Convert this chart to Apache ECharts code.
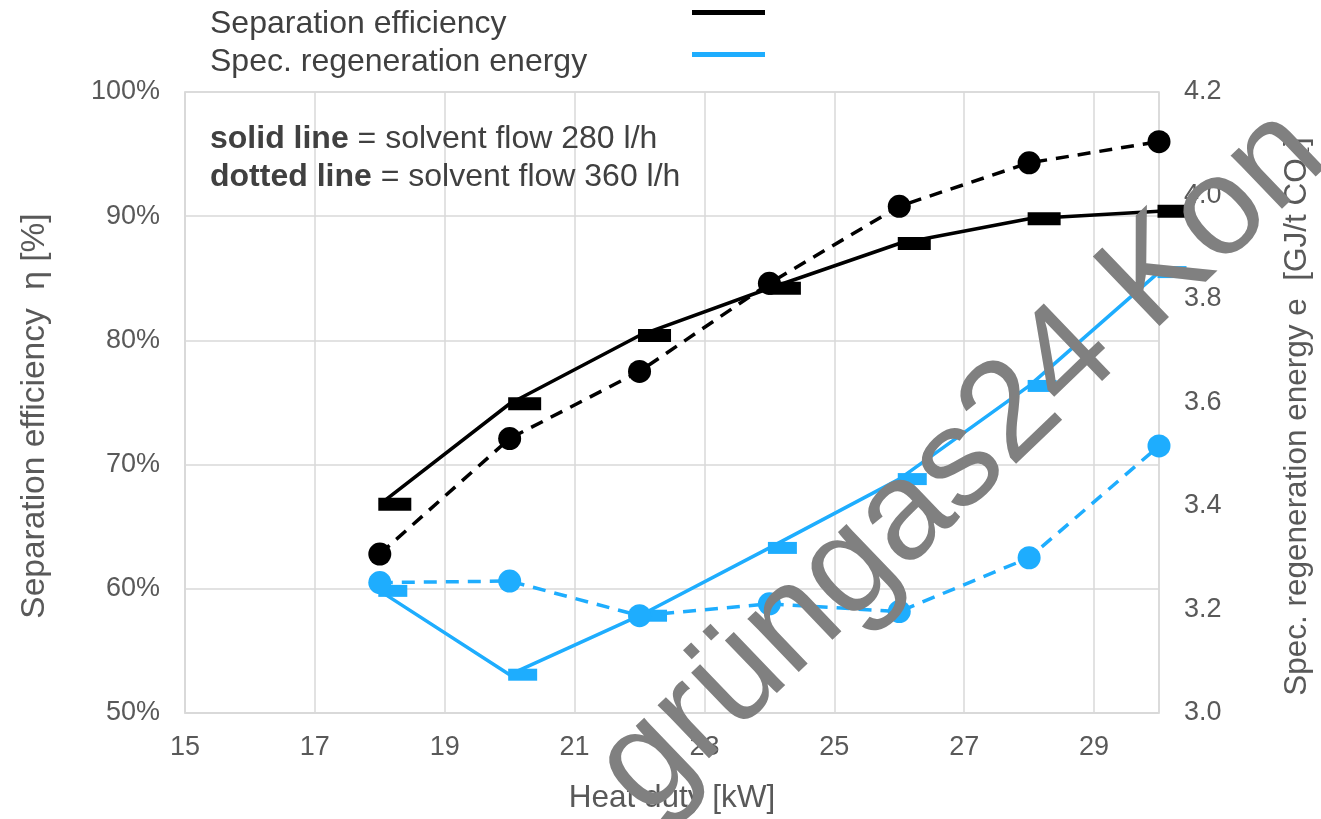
<!DOCTYPE html>
<html>
<head>
<meta charset="utf-8">
<script src="https://cdn.jsdelivr.net/npm/echarts@6/dist/echarts.min.js"></script>
<style>
  html, body { margin: 0; padding: 0; background: #fff; }
  #chart { width: 1321px; height: 819px; }
</style>
</head>
<body>
<div id="chart"></div>
<script>
// heat duty [kW]
const heatDuty = [18, 20, 22, 24, 26, 28, 30];
// separation efficiency [%]
const effSolid280 = [66.8, 74.9, 80.4, 84.2, 87.8, 89.8, 90.4];
const effDotted360 = [62.8, 72.1, 77.5, 84.6, 90.8, 94.3, 96.0];
// spec. regeneration energy [GJ/t CO2]
const energySolid280 = [3.236, 3.074, 3.188, 3.319, 3.452, 3.632, 3.852];
const energyDotted360 = [3.252, 3.255, 3.188, 3.211, 3.196, 3.30, 3.516];

const FONT = "'Liberation Sans', Arial, sans-serif";
const BLACK = "#000000";
const BLUE = "#1eadfe";
const GRID = "#d9d9d9";
const LABEL = "#595959";
const TEXT = "#404040";

function pairs(xs, ys) {
  return xs.map((x, i) => [x, ys[i]]);
}

function solidSeries(name, data, color, yAxisIndex, size) {
  return {
    type: "line",
    name,
    yAxisIndex,
    data: pairs(heatDuty, data),
    symbol: "rect",
    symbolSize: size,
    symbolOffset: [Math.round(size[0] / 2) - 2, 0],
    lineStyle: { color, width: 3.5 },
    itemStyle: { color },
    z: 3
  };
}

function dottedSeries(name, data, color, yAxisIndex) {
  return {
    type: "line",
    name,
    yAxisIndex,
    data: pairs(heatDuty, data),
    symbol: "circle",
    symbolSize: 23,
    lineStyle: { color, width: 3.5, type: [13, 9] },
    itemStyle: { color },
    z: 4
  };
}

const chart = echarts.init(document.getElementById("chart"), null, { renderer: "canvas" });

chart.setOption({
  animation: false,
  textStyle: { fontFamily: FONT },
  grid: {
    left: 185, right: 159, top: 92, bottom: 102,
    show: true, borderColor: GRID, borderWidth: 1.5
  },
  xAxis: {
    type: "value",
    min: 15, max: 30, interval: 2,
    name: "Heat duty [kW]",
    nameLocation: "middle",
    nameGap: 69,
    nameTextStyle: { color: LABEL, fontSize: 31.5, fontFamily: FONT },
    axisLine: { show: true, lineStyle: { color: GRID, width: 1.5 } },
    axisTick: { show: false },
    axisLabel: { color: LABEL, fontSize: 27, margin: 21, showMaxLabel: false, fontFamily: FONT },
    splitLine: { show: true, lineStyle: { color: GRID, width: 1.5 } }
  },
  yAxis: [
    {
      type: "value",
      min: 50, max: 100, interval: 10,
      name: "Separation efficiency  \u03b7 [%]",
      nameLocation: "middle",
      nameGap: 133,
      nameRotate: 90,
      nameTextStyle: { color: LABEL, fontSize: 33.5, fontFamily: FONT, padding: [0, 27, 0, 0] },
      axisLine: { show: true, lineStyle: { color: GRID, width: 1.5 } },
      axisTick: { show: false },
      axisLabel: { color: LABEL, fontSize: 27, margin: 25, formatter: "{value}%", fontFamily: FONT },
      splitLine: { show: true, lineStyle: { color: GRID, width: 1.5 } }
    },
    {
      type: "value",
      position: "right",
      min: 3.0, max: 4.2, interval: 0.2,
      name: "Spec. regeneration energy e  [GJ/t CO\u2082]",
      nameLocation: "middle",
      nameGap: 122,
      nameRotate: 90,
      nameTextStyle: { color: LABEL, fontSize: 31.5, fontFamily: FONT, padding: [0, 28, 0, 0] },
      axisLine: { show: false },
      axisTick: { show: false },
      axisLabel: {
        color: LABEL, fontSize: 27, margin: 25, fontFamily: FONT,
        formatter: (v) => Number(v).toFixed(1)
      },
      splitLine: { show: false }
    }
  ],
  series: [
    solidSeries("Separation efficiency 280 l/h", effSolid280, BLACK, 0, [33, 13]),
    dottedSeries("Separation efficiency 360 l/h", effDotted360, BLACK, 0),
    solidSeries("Spec. regeneration energy 280 l/h", energySolid280, BLUE, 1, [29, 12]),
    dottedSeries("Spec. regeneration energy 360 l/h", energyDotted360, BLUE, 1)
  ],
  graphic: [
    // legend
    {
      type: "text", left: 210, top: 8,
      style: { text: "Separation efficiency", fill: TEXT, font: "32px " + FONT }
    },
    {
      type: "text", left: 210, top: 46,
      style: { text: "Spec. regeneration energy", fill: TEXT, font: "32px " + FONT }
    },
    {
      type: "line",
      shape: { x1: 692, y1: 12.5, x2: 765, y2: 12.5 },
      style: { stroke: BLACK, lineWidth: 5 }
    },
    {
      type: "line",
      shape: { x1: 692, y1: 54.5, x2: 765, y2: 54.5 },
      style: { stroke: BLUE, lineWidth: 5 }
    },
    // annotation
    {
      type: "text", left: 210, top: 120,
      style: {
        text: "{b|solid line} = solvent flow 280 l/h\n{b|dotted line} = solvent flow 360 l/h",
        fill: TEXT,
        font: "32px " + FONT,
        lineHeight: 38,
        rich: { b: { fontWeight: "bold", fontSize: 32, fill: TEXT, fontFamily: FONT, lineHeight: 38 } }
      },
      z: 10
    },
    // watermark
    {
      type: "text",
      x: 619, y: 791,
      rotation: 43.8 * Math.PI / 180,
      style: {
        text: "gr\u00fcngas24 Kon",
        fill: "#808080",
        font: "140px " + FONT,
        align: "left",
        verticalAlign: "middle"
      },
      z: 100
    }
  ]
});
</script>
</body>
</html>
